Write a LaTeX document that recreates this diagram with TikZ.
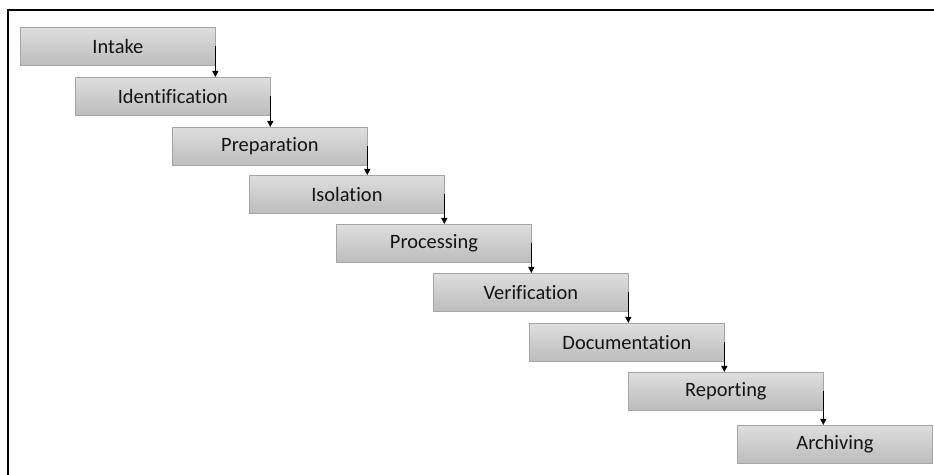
\documentclass[tikz,border=0pt]{standalone}
\usepackage{fontspec}
\setmainfont[Ligatures={NoCommon}]{Carlito}
\usetikzlibrary{arrows.meta}
\definecolor{boxtop}{RGB}{222,222,222}
\definecolor{boxbot}{RGB}{188,188,188}
\definecolor{boxline}{RGB}{165,165,165}
\definecolor{txt}{RGB}{20,20,20}
\tikzset{
  stepbox/.style={draw=boxline, line width=0.8bp, top color=boxtop, bottom color=boxbot,
    minimum width=195bp, minimum height=38bp, inner sep=0pt, anchor=north west,
    text=txt, font=\fontsize{20.5}{24}\selectfont},
  flowarrow/.style={draw=black, line width=1bp, -{Triangle[width=6bp,length=6bp]}},
  framestyle/.style={draw=black, line width=2.5bp}
}
\begin{document}
\begin{tikzpicture}[x=1bp,y=-1bp]
\useasboundingbox (0,0) rectangle (934,475);
\draw[framestyle] (8,476) -- (8,10) -- (935,10);
\node[stepbox] (n1) at (20,27) {Intake};
\node[stepbox] (n2) at (75,77) {Identification};
\node[stepbox] (n3) at (172,127) {Preparation};
\node[stepbox] (n4) at (249,175) {Isolation};
\node[stepbox] (n5) at (336,224) {Processing};
\node[stepbox] (n6) at (433,273) {Verification};
\node[stepbox] (n7) at (529,323) {Documentation};
\node[stepbox] (n8) at (628,372) {Reporting};
\node[stepbox] (n9) at (737,425) {Archiving};
\foreach \a/\b in {n1/n2,n2/n3,n3/n4,n4/n5,n5/n6,n6/n7,n7/n8,n8/n9}{
  \draw[flowarrow] ([xshift=-0.5bp]\a.east) -- ([xshift=-0.5bp]\a.east |- \b.north);
}
\end{tikzpicture}
\end{document}
